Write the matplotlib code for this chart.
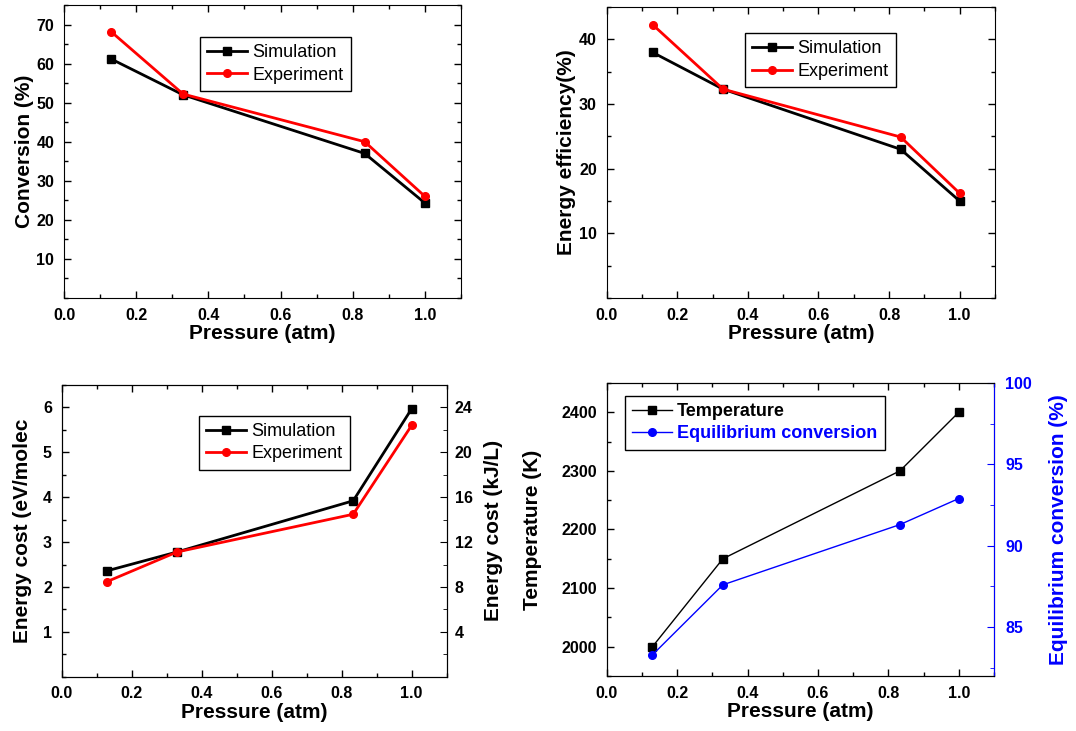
import matplotlib.pyplot as plt
from matplotlib.ticker import MultipleLocator, FixedLocator

plt.rcParams['font.family'] = ['Liberation Sans', 'DejaVu Sans']

pressure = [0.13, 0.33, 0.833, 1.0]

conv_sim = [61.2, 52.0, 37.0, 24.3]
conv_exp = [68.2, 52.2, 40.0, 26.0]

eff_sim = [38.0, 32.3, 23.0, 15.0]
eff_exp = [42.3, 32.3, 24.9, 16.2]

cost_sim = [2.36, 2.78, 3.92, 5.97]
cost_exp = [2.12, 2.78, 3.62, 5.60]

temperature = [2000, 2150, 2300, 2400]
eq_conv = [83.3, 87.6, 91.3, 92.9]

fig = plt.figure(figsize=(10.76, 7.31), dpi=100)
ax1 = fig.add_axes([0.0595, 0.5923, 0.369, 0.4009])
ax2 = fig.add_axes([0.5638, 0.5923, 0.3609, 0.398])
ax3 = fig.add_axes([0.0573, 0.0743, 0.3578, 0.399])
ax4 = fig.add_axes([0.5638, 0.0752, 0.360, 0.401])


def style(ax, yticks, yminor, right=True):
    ax.set_xlim(0, 1.1)
    ax.xaxis.set_major_locator(FixedLocator([0.0, 0.2, 0.4, 0.6, 0.8, 1.0]))
    ax.xaxis.set_minor_locator(MultipleLocator(0.1))
    ax.yaxis.set_major_locator(FixedLocator(yticks))
    ax.yaxis.set_minor_locator(MultipleLocator(yminor))
    ax.tick_params(which='both', direction='in', top=True, right=right)
    ax.tick_params(which='major', length=5, width=1, pad=7)
    ax.tick_params(which='minor', length=3, width=1)
    for lab in ax.get_xticklabels() + ax.get_yticklabels():
        lab.set_fontweight('bold')
        lab.set_fontsize(11.5)
    ax.set_xlabel('Pressure (atm)', fontsize=15, fontweight='bold', labelpad=1)


def sim_exp(ax, sim, exp, anchor):
    ax.plot(pressure, sim, color='black', marker='s', markersize=6, lw=2, label='Simulation')
    ax.plot(pressure, exp, color='red', marker='o', markersize=5.5, lw=2, label='Experiment')
    leg = ax.legend(loc='upper left', bbox_to_anchor=anchor, borderaxespad=0,
                    fontsize=13, numpoints=1, fancybox=False, framealpha=1,
                    edgecolor='black', handlelength=2.2, handletextpad=0.3,
                    labelspacing=0.3, borderpad=0.4)
    leg.get_frame().set_linewidth(1)


# conversion
sim_exp(ax1, conv_sim, conv_exp, (0.343, 0.891))
ax1.set_ylim(0, 75)
style(ax1, [10, 20, 30, 40, 50, 60, 70], 5)
ax1.set_ylabel('Conversion (%)', fontsize=15, fontweight='bold', labelpad=2)

# energy efficiency
sim_exp(ax2, eff_sim, eff_exp, (0.356, 0.91))
ax2.set_ylim(0, 45)
style(ax2, [10, 20, 30, 40], 5)
ax2.set_ylabel('Energy efficiency(%)', fontsize=15, fontweight='bold', labelpad=2)

# energy cost
sim_exp(ax3, cost_sim, cost_exp, (0.357, 0.895))
ax3.set_ylim(0, 6.5)
style(ax3, [1, 2, 3, 4, 5, 6], 0.5, right=False)
ax3.set_ylabel('Energy cost (eV/molec', fontsize=15, fontweight='bold', labelpad=8)
ax3r = ax3.twinx()
ax3r.set_ylim(0, 26)
ax3r.yaxis.set_major_locator(FixedLocator([4, 8, 12, 16, 20, 24]))
ax3r.yaxis.set_minor_locator(MultipleLocator(2))
ax3r.tick_params(which='both', direction='in')
ax3r.tick_params(which='major', length=5, pad=6)
ax3r.tick_params(which='minor', length=3)
for lab in ax3r.get_yticklabels():
    lab.set_fontweight('bold')
    lab.set_fontsize(11.5)
ax3r.set_ylabel('Energy cost (kJ/L)', fontsize=15, fontweight='bold', labelpad=8)

# temperature / equilibrium conversion
ax4.plot(pressure, temperature, color='black', marker='s', markersize=6, lw=1, label='Temperature')
ax4.set_ylim(1950, 2450)
style(ax4, [2000, 2100, 2200, 2300, 2400], 50, right=False)
ax4.set_ylabel('Temperature (K)', fontsize=15, fontweight='bold', labelpad=14)
ax4r = ax4.twinx()
ax4r.plot(pressure, eq_conv, color='blue', marker='o', markersize=5.5, lw=1,
          label='Equilibrium conversion')
ax4r.set_ylim(82, 100)
ax4r.yaxis.set_major_locator(FixedLocator([85, 90, 95, 100]))
ax4r.yaxis.set_minor_locator(MultipleLocator(2.5))
ax4r.tick_params(which='both', direction='in', colors='blue')
ax4r.tick_params(which='major', length=5, pad=8)
ax4r.tick_params(which='minor', length=3)
ax4r.spines['right'].set_color('blue')
for lab in ax4r.get_yticklabels():
    lab.set_fontweight('bold')
    lab.set_fontsize(11.5)
ax4r.set_ylabel('Equilibrium conversion (%)', fontsize=15, fontweight='bold', color='blue',
                labelpad=12)

h1, l1 = ax4.get_legend_handles_labels()
h2, l2 = ax4r.get_legend_handles_labels()
leg = ax4r.legend(h1 + h2, l1 + l2, loc='upper left', bbox_to_anchor=(0.047, 0.956),
                  borderaxespad=0, numpoints=1, fancybox=False, framealpha=1,
                  edgecolor='black', handlelength=2.2, handletextpad=0.3,
                  labelspacing=0.3, borderpad=0.4,
                  prop={'size': 13, 'weight': 'bold'})
leg.get_frame().set_linewidth(1)
leg.get_texts()[1].set_color('blue')

fig.savefig('out.png', dpi=100)
